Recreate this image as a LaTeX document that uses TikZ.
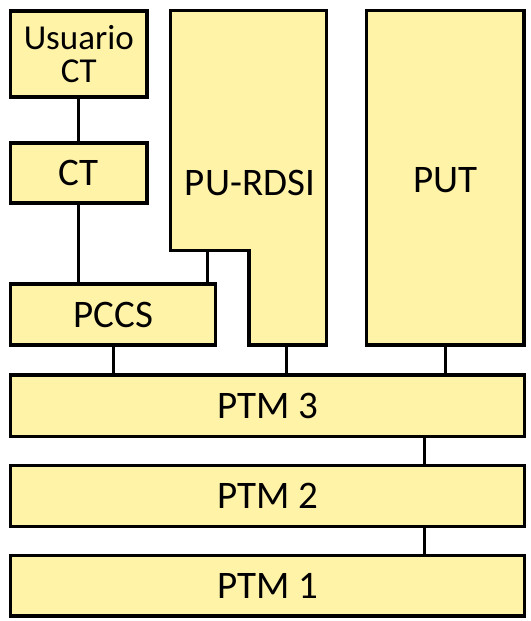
\documentclass[tikz,border=0pt]{standalone}
\usepackage{fontspec}
\setmainfont{Carlito}
\definecolor{boxfill}{RGB}{255,243,168}
\begin{document}
\begin{tikzpicture}[x=1pt,y=-1pt,
  box/.style={draw=black,line width=3.3pt,fill=boxfill,rectangle,inner sep=0pt,
    font=\fontsize{39}{40}\selectfont},
  link/.style={draw=black,line width=3pt}]
\useasboundingbox (0,0) rectangle (530,621);
% boxes
\node[box,minimum width=136.5pt,minimum height=86pt,align=center,
  font=\fontsize{35}{33}\selectfont] (usr) at (78.75,54) {Usuario\\CT};
\node[box,minimum width=136.5pt,minimum height=60pt] (ct) at (78.75,173) {CT};
\node[box,minimum width=205.2pt,minimum height=61pt] (pccs) at (113.1,314.5) {PCCS};
\node[box,minimum width=157.3pt,minimum height=334.5pt] (put) at (445.35,177.75) {};
\node[font=\fontsize{39}{40}\selectfont] (putt) at (445.8,180) {PUT};
\node[box,minimum width=514pt,minimum height=61.5pt] (ptm3) at (267.5,405.75) {PTM 3};
\node[box,minimum width=514pt,minimum height=61pt] (ptm2) at (267.5,496) {PTM 2};
\node[box,minimum width=514pt,minimum height=60.5pt] (ptm1) at (267.5,585.75) {PTM 1};
% PU-RDSI L-shaped block
\draw[line width=3.3pt,fill=boxfill,line join=miter]
  (170.7,10.5) -- (326.7,10.5) -- (326.7,345) -- (249,345) -- (249,250.7)
  -- (170.7,250.7) -- cycle;
\node[font=\fontsize{39}{40}\selectfont] (rdsi) at (250,182.5) {PU-RDSI};
\coordinate (rdsiA) at (207.3,250.7);
\coordinate (rdsiB) at (286,345);
% connectors
\draw[link] (usr.south) -- (ct.north);
\draw[link] (ct.south) -- (ct.south |- pccs.north);
\draw[link] (rdsiA) -- (rdsiA |- pccs.north);
\draw[link] (pccs.south -| 113.3,0) -- (ptm3.north -| 113.3,0);
\draw[link] (rdsiB) -- (rdsiB |- ptm3.north);
\draw[link] (put.south -| 445.7,0) -- (ptm3.north -| 445.7,0);
\draw[link] (ptm3.south -| 424.7,0) -- (ptm2.north -| 424.7,0);
\draw[link] (ptm2.south -| 424.7,0) -- (ptm1.north -| 424.7,0);
\end{tikzpicture}
\end{document}
